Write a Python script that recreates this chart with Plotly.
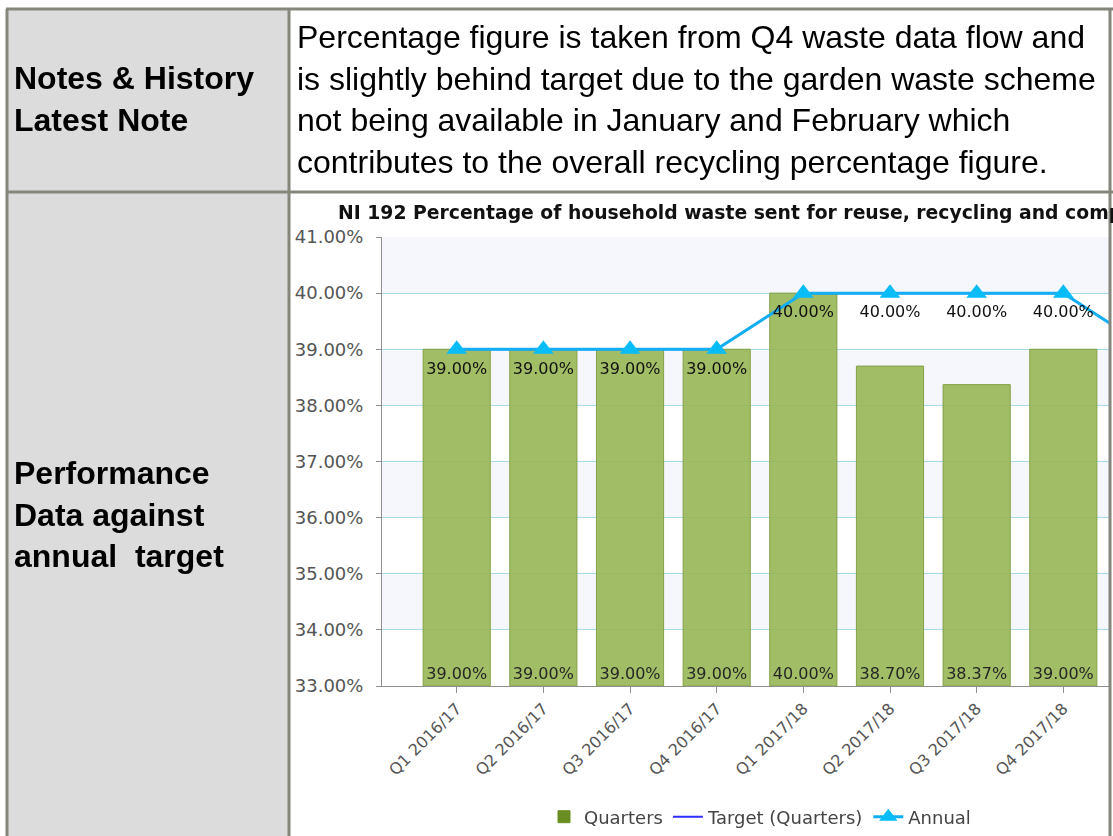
import plotly.graph_objects as go

# ---------------- data ----------------
categories = ["Q1 2016/17", "Q2 2016/17", "Q3 2016/17", "Q4 2016/17",
              "Q1 2017/18", "Q2 2017/18", "Q3 2017/18", "Q4 2017/18", "Q1 2018/19"]
quarters = [39.00, 39.00, 39.00, 39.00, 40.00, 38.70, 38.37, 39.00, None]
target_quarters = [39.00, 39.00, 39.00, 39.00, 40.00, 40.00, 40.00, 40.00, 39.00]
annual = [39.00, 39.00, 39.00, 39.00, 40.00, 40.00, 40.00, 40.00, 39.00]
y_ticks = [33, 34, 35, 36, 37, 38, 39, 40, 41]
y_tick_labels = [f"{v:.2f}%" for v in y_ticks]
Y_MIN, Y_MAX = y_ticks[0], y_ticks[-1]

chart_title = "NI 192 Percentage of household waste sent for reuse, recycling and composting"
row1_label = "Notes & History<br>Latest Note"
row1_text = ("Percentage figure is taken from Q4 waste data flow and<br>"
             "is slightly behind target due to the garden waste scheme<br>"
             "not being available in January and February which<br>"
             "contributes to the overall recycling percentage figure.")
row2_label = "Performance<br>Data against<br>annual\u00a0 target"

# ---------------- geometry helpers (screen px -> paper) ----------------
W, H = 1113, 836
OFF = 0  # page body margin removed below


def fx(sx):
    return (sx - OFF) / W


def fy(sy):
    return 1 - (sy - OFF) / H


BORDER = "#86867c"
CELL_GRAY = "#dcdcdc"

fig = go.Figure()

# bars start at the bottom of the value axis (the chart's base line)
bar_len = [None if v is None else v - Y_MIN for v in quarters]
fig.add_trace(go.Bar(
    x=categories, y=bar_len, base=Y_MIN, name="Quarters",
    customdata=quarters, showlegend=False, legendgroup="q",
    marker=dict(color="#99b858", line=dict(color="#7b9a37", width=1)),
    opacity=0.92,
    texttemplate="%{customdata:.2f}%", textposition="inside", insidetextanchor="start",
    textangle=0, constraintext="none",
    textfont=dict(family="DejaVu Sans", size=16, color="#111111"),
    hovertemplate="%{x}: %{customdata:.2f}%<extra></extra>",
))
# legend entry for the bars (darker swatch as in the source legend)
fig.add_trace(go.Bar(
    x=[None], y=[None], name="Quarters", legendgroup="q", showlegend=True,
    marker=dict(color="#6b8e23", line=dict(color="#6b8e23", width=1)),
))
fig.add_trace(go.Scatter(
    x=categories, y=target_quarters, name="Target (Quarters)", mode="lines",
    line=dict(color="#2f2fff", width=2),
))
fig.add_trace(go.Scatter(
    x=categories, y=annual, name="Annual", mode="lines+markers+text",
    line=dict(color="#14aff2", width=3),
    marker=dict(symbol="triangle-up", size=18, color="#08bcf8"),
    texttemplate="%{y:.2f}%", textposition="bottom center",
    textfont=dict(family="DejaVu Sans", size=16, color="#111111"),
))

shapes = []
# alternating background bands
for lo in y_ticks[1:-1:2]:
    shapes.append(dict(type="rect", xref="x domain", yref="y", x0=0, x1=1,
                       y0=lo, y1=lo + 1, fillcolor="#f5f7fc", line_width=0,
                       layer="below"))
# table: gray label column
shapes.append(dict(type="rect", xref="paper", yref="paper",
                   x0=fx(8), x1=fx(289), y0=fy(840), y1=fy(9),
                   fillcolor=CELL_GRAY, line_width=0, layer="below"))
# table borders
for (x0, y0, x1, y1) in [
    (6, 9, 1113, 9),      # top
    (6, 192, 1113, 192),  # row separator
    (7, 9, 7, 840),       # left
    (289, 9, 289, 840),   # column separator
    (1110, 9, 1110, 840), # right
]:
    shapes.append(dict(type="line", xref="paper", yref="paper",
                       x0=fx(x0), x1=fx(x1), y0=fy(y0), y1=fy(y1),
                       line=dict(color=BORDER, width=3), layer="above"))

annotations = [
    dict(text=chart_title, x=fx(336), y=fy(212), xref="paper", yref="paper",
         xanchor="left", yanchor="middle", showarrow=False,
         font=dict(family="DejaVu Sans", size=18.8, color="#111111", weight="bold")),
    dict(text=row1_label, x=fx(12), y=fy(99), xref="paper", yref="paper",
         xanchor="left", yanchor="middle", align="left", showarrow=False,
         font=dict(family="Liberation Sans", size=32, color="#000000", weight="bold")),
    dict(text=row1_text, x=fx(295), y=fy(99), xref="paper", yref="paper",
         xanchor="left", yanchor="middle", align="left", showarrow=False,
         font=dict(family="Liberation Sans", size=32, color="#000000")),
    dict(text=row2_label, x=fx(12), y=fy(514), xref="paper", yref="paper",
         xanchor="left", yanchor="middle", align="left", showarrow=False,
         font=dict(family="Liberation Sans", size=32, color="#000000", weight="bold")),
]

plot_left, plot_right = 382, 1110
cat0, cat_step = 456.7, 86.66

fig.update_layout(
    width=W, height=H,
    margin=dict(l=0, r=0, t=0, b=0, autoexpand=False),
    paper_bgcolor="white", plot_bgcolor="white",
    barmode="overlay", bargap=0.225,
    shapes=shapes, annotations=annotations,
    showlegend=True,
    legend=dict(orientation="h", x=fx(760), xanchor="center", y=fy(817), yanchor="middle",
                font=dict(family="DejaVu Sans", size=18, color="#444444"),
                bgcolor="rgba(0,0,0,0)", itemwidth=30, tracegroupgap=0),
    xaxis=dict(
        type="category", categoryorder="array", categoryarray=categories,
        domain=[fx(plot_left), fx(plot_right)],
        range=[(plot_left - cat0) / cat_step, (plot_right - cat0) / cat_step],
        automargin=False,
        showline=True, linecolor="#8f8f8f", linewidth=1,
        ticks="outside", ticklen=6, tickcolor="#8f8f8f",
        tickangle=-45, showgrid=False,
        tickfont=dict(family="DejaVu Sans", size=16, color="#555555"),
    ),
    yaxis=dict(
        domain=[fy(686), fy(237)], range=[Y_MIN, Y_MAX],
        tickvals=y_ticks, ticktext=y_tick_labels,
        automargin=False, ticklabelstandoff=9,
        showgrid=True, gridcolor="#a6dcea", gridwidth=1, zeroline=False,
        showline=True, linecolor="#8f8f8f", linewidth=1,
        ticks="outside", ticklen=5, tickcolor="#8f8f8f",
        tickfont=dict(family="DejaVu Sans", size=18, color="#555555"),
    ),
)

fig.write_html("out.html", config={"displayModeBar": False},
               post_script="document.body.style.margin='0';")
